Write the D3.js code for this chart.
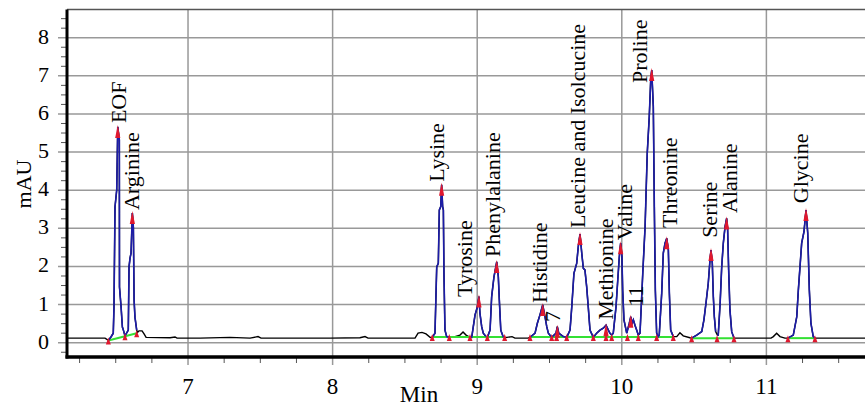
<!DOCTYPE html>
<html>
<head>
<meta charset="utf-8">
<script src="https://cdn.jsdelivr.net/npm/d3@7"></script>
<style>
  body { margin: 0; background: #fff; }
  svg text { font-family: "Liberation Serif", "Times New Roman", serif; fill: #000; }
</style>
</head>
<body>
<svg id="chart" width="865" height="409"></svg>
<script>
// electropherogram trace: [time (min), absorbance (mAU)]
const trace = [
  [6.163, 0.12], [6.426, 0.12], [6.449, 0.06], [6.467, 0.15], [6.483, 0.25], [6.488, 0.94],
  [6.495, 3.56], [6.507, 4.01], [6.514, 5.66], [6.525, 5.32], [6.526, 1.46], [6.537, 0.94],
  [6.546, 0.41], [6.553, 0.33], [6.564, 0.18],
  [6.587, 0.33], [6.592, 1.99], [6.599, 2.22], [6.606, 2.35], [6.615, 3.40], [6.622, 3.03],
  [6.627, 1.12], [6.633, 0.67], [6.645, 0.33],
  [6.651, 0.27], [6.661, 0.31], [6.682, 0.31], [6.696, 0.23], [6.710, 0.14], [6.876, 0.13],
  [6.910, 0.15], [6.924, 0.12], [7.083, 0.12], [7.290, 0.14], [7.429, 0.12], [7.484, 0.16],
  [7.505, 0.12], [7.775, 0.12], [7.982, 0.12], [8.189, 0.13], [8.224, 0.16], [8.245, 0.12],
  [8.466, 0.12], [8.570, 0.12], [8.591, 0.25], [8.618, 0.27], [8.646, 0.23], [8.674, 0.14],
  [8.689, 0.14], [8.708, 0.25], [8.720, 1.99], [8.731, 2.08], [8.738, 3.48], [8.748, 3.57],
  [8.754, 4.14], [8.761, 3.57], [8.766, 3.48], [8.770, 1.83], [8.777, 0.33], [8.789, 0.16],
  [8.807, 0.14],
  [8.846, 0.16], [8.881, 0.20], [8.902, 0.28], [8.923, 0.20], [8.950, 0.14],
  [8.962, 0.14], [8.973, 0.42], [8.985, 0.73], [9.001, 0.94], [9.012, 1.21], [9.019, 0.77],
  [9.031, 0.42], [9.042, 0.25], [9.061, 0.16],
  [9.070, 0.14], [9.089, 0.33], [9.100, 1.21], [9.116, 1.73], [9.135, 2.12], [9.146, 1.73],
  [9.153, 1.12], [9.163, 0.33], [9.181, 0.14],
  [9.206, 0.14], [9.241, 0.16], [9.261, 0.12], [9.351, 0.12],
  [9.365, 0.14], [9.400, 0.25], [9.416, 0.51], [9.434, 0.73], [9.453, 0.99], [9.469, 0.68],
  [9.481, 0.42], [9.492, 0.25], [9.515, 0.14],
  [9.526, 0.18], [9.545, 0.25], [9.554, 0.42], [9.564, 0.25], [9.595, 0.16],
  [9.619, 0.14], [9.642, 0.33], [9.654, 0.94], [9.669, 1.82], [9.688, 2.08], [9.699, 2.52],
  [9.711, 2.85], [9.723, 2.35], [9.734, 1.95], [9.745, 1.91], [9.757, 1.47], [9.768, 0.94],
  [9.780, 0.33], [9.803, 0.14],
  [9.826, 0.25], [9.849, 0.33], [9.872, 0.38], [9.891, 0.46], [9.907, 0.33], [9.918, 0.25],
  [9.930, 0.20],
  [9.941, 0.25], [9.960, 0.94], [9.972, 1.64], [9.983, 2.26], [9.992, 2.61], [10.001, 2.26],
  [10.006, 1.38], [10.015, 0.60], [10.034, 0.25],
  [10.052, 0.51], [10.062, 0.68], [10.071, 0.51], [10.080, 0.60], [10.091, 0.46], [10.103, 0.33],
  [10.114, 0.20],
  [10.126, 0.25], [10.145, 1.82], [10.161, 3.04], [10.176, 4.97], [10.190, 5.93], [10.200, 6.89],
  [10.207, 7.15], [10.218, 6.19], [10.225, 3.57], [10.232, 1.38], [10.241, 0.25], [10.252, 0.16],
  [10.259, 0.20], [10.276, 1.30], [10.287, 2.35], [10.299, 2.61], [10.311, 2.74], [10.322, 2.43],
  [10.329, 1.30], [10.338, 0.33], [10.356, 0.16],
  [10.380, 0.16], [10.402, 0.26], [10.425, 0.18], [10.471, 0.13],
  [10.483, 0.12], [10.518, 0.20], [10.553, 0.29], [10.568, 0.60], [10.582, 1.03], [10.598, 1.56],
  [10.610, 2.17], [10.617, 2.43], [10.626, 2.08], [10.633, 1.21], [10.640, 0.68], [10.649, 0.29],
  [10.661, 0.20],
  [10.667, 0.20], [10.680, 1.03], [10.691, 1.99], [10.702, 2.61], [10.714, 3.04], [10.725, 3.26],
  [10.732, 2.96], [10.739, 1.91], [10.748, 0.86], [10.760, 0.29], [10.776, 0.12],
  [10.887, 0.12], [11.032, 0.12], [11.048, 0.16], [11.071, 0.25], [11.094, 0.16], [11.128, 0.12],
  [11.149, 0.12], [11.186, 0.20], [11.210, 0.68], [11.221, 1.38], [11.244, 2.61], [11.260, 2.91],
  [11.274, 3.48], [11.286, 2.87], [11.297, 1.38], [11.308, 0.51], [11.324, 0.16], [11.336, 0.12],
  [11.682, 0.12]
];

const peakNames = ["EOF", "Arginine", "Lysine", "Tyrosine", "Phenylalanine", "Histidine", "7",
  "Leucine and Isolcucine", "Methionine", "Valine", "11", "Proline", "Threonine", "Serine",
  "Alanine", "Glycine"];
// integration window of each peak [start, end] in min
const peakWindows = [[6.449, 6.564], [6.564, 6.645], [8.689, 8.807], [8.950, 9.061], [9.070, 9.181],
  [9.365, 9.515], [9.515, 9.619], [9.619, 9.803], [9.803, 9.930], [9.930, 10.034], [10.034, 10.114],
  [10.114, 10.241], [10.241, 10.356], [10.483, 10.659], [10.659, 10.776], [11.149, 11.336]];
// where the peak name starts [time, mAU]
const labelAt = [[6.571, 5.76], [6.658, 3.48], [8.767, 4.22], [8.967, 1.20], [9.161, 2.25],
  [9.483, 1.04], [9.573, 0.54], [9.745, 3.01], [9.939, 0.60], [10.071, 2.69], [10.147, 0.94],
  [10.174, 6.81], [10.382, 3.01], [10.658, 2.75], [10.797, 3.40], [11.291, 3.66]];

// integration baselines [t0, v0, t1, v1]
const baselines = [[6.449, 0.06, 6.645, 0.25], [8.689, 0.15, 9.190, 0.15], [9.365, 0.15, 10.356, 0.15],
  [10.483, 0.12, 10.776, 0.12], [11.149, 0.12, 11.336, 0.12]];
const boundaryMarks = [6.449, 6.564, 6.645, 8.689, 8.807, 8.950, 9.070, 9.190, 9.365, 9.515, 9.549,
  9.619, 9.803, 9.891, 9.930, 10.039, 10.114, 10.241, 10.356, 10.483, 10.659, 10.776, 11.149, 11.336];

const xMajor = [7, 8, 9, 10, 11];
const yMajor = [0, 1, 2, 3, 4, 5, 6, 7, 8];

const svg = d3.select("#chart");
const x = d3.scaleLinear().domain([6.163, 11.682]).range([67, 865]);
const y = d3.scaleLinear().domain([-0.375, 8.74]).range([357, 9.5]);
const plotLeft = 67, plotRight = 865, plotTop = y(8.74), plotBottom = y(-0.375);

// grid
svg.append("g").selectAll("line").data(yMajor).join("line")
    .attr("x1", 58).attr("x2", plotRight)
    .attr("y1", d => y(d)).attr("y2", d => y(d))
    .attr("stroke", "#999").attr("stroke-width", 1.5);
svg.append("g").selectAll("line").data(xMajor).join("line")
    .attr("x1", d => x(d)).attr("x2", d => x(d))
    .attr("y1", plotTop).attr("y2", plotBottom + 8)
    .attr("stroke", "#999").attr("stroke-width", 1.5);

// minor ticks
const yMinor = d3.range(-0.25, 8.6, 0.25).filter(d => Math.abs(d - Math.round(d)) > 0.01);
svg.append("g").selectAll("line").data(yMinor).join("line")
    .attr("x1", 61).attr("x2", plotLeft)
    .attr("y1", d => y(d)).attr("y2", d => y(d))
    .attr("stroke", "#555").attr("stroke-width", 1);
const xMinor = d3.range(6.25, 11.7, 0.25).filter(d => Math.abs(d - Math.round(d)) > 0.01);
svg.append("g").selectAll("line").data(xMinor).join("line")
    .attr("x1", d => x(d)).attr("x2", d => x(d))
    .attr("y1", plotBottom).attr("y2", plotBottom + 6)
    .attr("stroke", "#555").attr("stroke-width", 1);

// frame
svg.append("line").attr("x1", plotLeft).attr("x2", plotRight).attr("y1", plotTop).attr("y2", plotTop)
    .attr("stroke", "#555").attr("stroke-width", 1.5);
svg.append("line").attr("x1", plotLeft).attr("x2", plotLeft).attr("y1", plotTop).attr("y2", plotBottom + 1.5)
    .attr("stroke", "#000").attr("stroke-width", 3);
svg.append("line").attr("x1", plotLeft - 1.5).attr("x2", plotRight).attr("y1", plotBottom).attr("y2", plotBottom)
    .attr("stroke", "#000").attr("stroke-width", 3.5);

// tick labels
svg.append("g").selectAll("text").data(yMajor).join("text")
    .attr("x", 49).attr("y", d => y(d)).attr("dy", "0.27em")
    .attr("text-anchor", "end").attr("font-size", 22)
    .text(d => d);
svg.append("g").selectAll("text").data(xMajor).join("text")
    .attr("x", d => x(d)).attr("y", 394)
    .attr("text-anchor", "middle").attr("font-size", 23)
    .text(d => d);

svg.append("text").attr("x", 419).attr("y", 402)
    .attr("text-anchor", "middle").attr("font-size", 23).text("Min");
svg.append("text").attr("transform", "translate(31,184) rotate(-90)")
    .attr("text-anchor", "middle").attr("font-size", 22).text("mAU");

// trace
const line = d3.line().x(d => x(d[0])).y(d => y(d[1]));
svg.append("path").datum(trace).attr("d", line)
    .attr("fill", "none").attr("stroke", "#000").attr("stroke-width", 1.4);

// integration baselines
svg.append("g").selectAll("line").data(baselines).join("line")
    .attr("x1", d => x(d[0])).attr("y1", d => y(d[1]))
    .attr("x2", d => x(d[2])).attr("y2", d => y(d[3]))
    .attr("stroke", "#33e033").attr("stroke-width", 2);

// peaks in blue
peakWindows.forEach(w => {
  const seg = trace.filter(d => d[0] >= w[0] - 1e-6 && d[0] <= w[1] + 1e-6);
  svg.append("path").datum(seg).attr("d", line)
      .attr("fill", "none").attr("stroke", "#1c1ca8").attr("stroke-width", 1.6);
});

// apex marks
peakWindows.forEach(w => {
  const seg = trace.filter(d => d[0] >= w[0] && d[0] <= w[1]);
  const apex = d3.greatest(seg, d => d[1]);
  const px = x(apex[0]), py = y(apex[1]);
  svg.append("path")
      .attr("d", `M${px},${py - 2} L${px + 2.6},${py + 11} L${px - 2.6},${py + 11} Z`)
      .attr("fill", "#e0182e");
});

// boundary marks on the baselines
function baseAt(t) {
  const b = baselines.find(b => t >= b[0] - 0.02 && t <= b[2] + 0.02);
  return b[1] + (b[3] - b[1]) * (t - b[0]) / (b[2] - b[0]);
}
svg.append("g").selectAll("path").data(boundaryMarks).join("path")
    .attr("d", t => {
      const px = x(t), py = y(baseAt(t));
      return `M${px},${py - 3} L${px + 2.5},${py + 4} L${px - 2.5},${py + 4} Z`;
    })
    .attr("fill", "#e0182e");

// peak names
svg.append("g").selectAll("text").data(peakNames).join("text")
    .attr("transform", (d, i) => `translate(${x(labelAt[i][0])},${y(labelAt[i][1])}) rotate(-90)`)
    .attr("font-size", 22)
    .text(d => d);
</script>
</body>
</html>
